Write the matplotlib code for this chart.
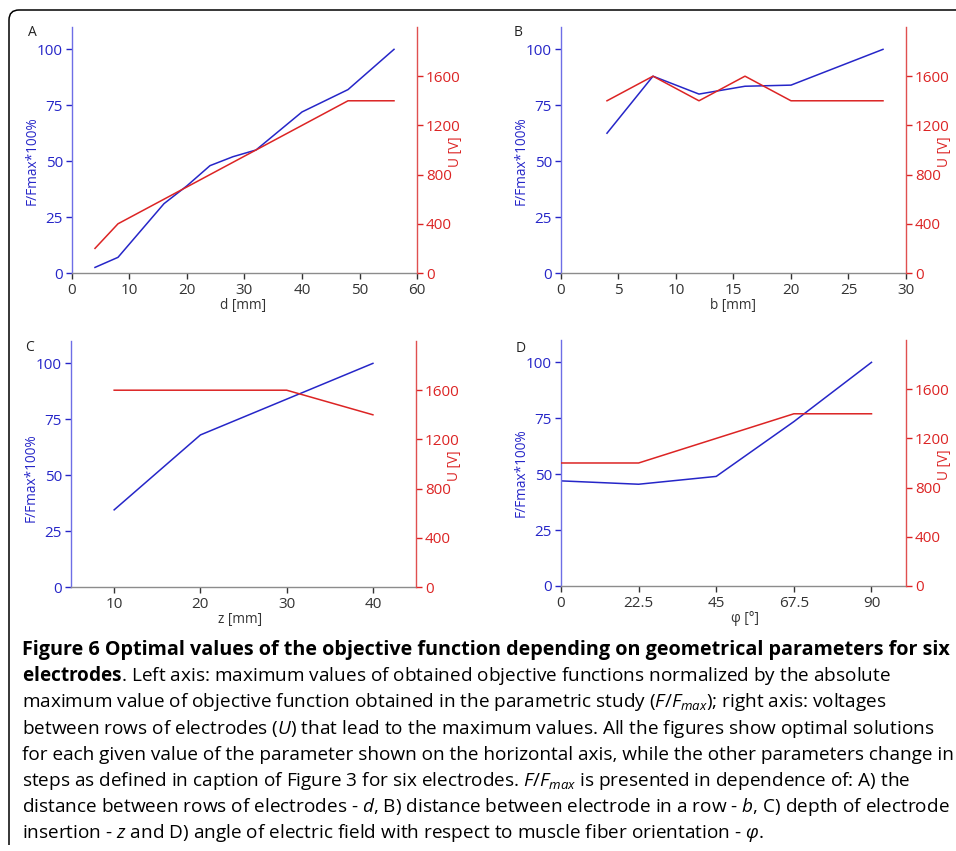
import matplotlib.pyplot as plt
from matplotlib.path import Path
from matplotlib.patches import PathPatch

plt.rcParams['font.family'] = ['Open Sans', 'DejaVu Sans']
plt.rcParams['mathtext.fontset'] = 'custom'
plt.rcParams['mathtext.rm'] = 'Open Sans'
plt.rcParams['mathtext.it'] = 'Open Sans:italic'
plt.rcParams['mathtext.bf'] = 'Open Sans:bold'

## A) distance between rows of electrodes
d_mm = [4, 8, 12, 16, 20, 24, 28, 32, 36, 40, 44, 48, 52, 56]
d_f = [2.5, 7, 19, 31, 39, 48, 52, 55, 63.5, 72, 77, 82, 91, 100]
d_u = [200, 400, 500, 600, 700, 800, 900, 1000, 1100, 1200, 1300, 1400, 1400, 1400]

## B) distance between electrodes in a row
b_mm = [4, 8, 12, 16, 20, 24, 28]
b_f = [62.5, 88, 80, 83.5, 84, 92, 100]
b_u = [1400, 1600, 1400, 1600, 1400, 1400, 1400]

## C) depth of insertion
z_mm = [10, 20, 30, 40]
z_f = [34.5, 68, 84, 100]
z_u = [1600, 1600, 1600, 1400]

## D) angle of electric field
phi_deg = [0, 22.5, 45, 67.5, 90]
phi_f = [47, 45.5, 49, 73.5, 100]
phi_u = [1000, 1000, 1200, 1400, 1400]

f_ticks = [0, 25, 50, 75, 100]
u_ticks = [0, 400, 800, 1200, 1600]

BLUE = '#2626c8'
RED = '#dc2424'
GRAY = '#333333'

fig = plt.figure(figsize=(9.56, 8.51), dpi=100)


def panel(rect, x, f, u, letter, xlabel, xlim, xticks, xticklabels, letter_xy, ylab_y):
    ax = fig.add_axes(rect)
    ax2 = ax.twinx()
    ax.plot(x, f, color=BLUE, lw=1.1)
    ax2.plot(x, u, color=RED, lw=1.1)

    ax.set_xlim(xlim)
    ax.set_ylim(0, 110)
    ax2.set_ylim(0, 2000)
    ax.set_xticks(xticks)
    ax.set_xticklabels(xticklabels)
    ax.set_yticks(f_ticks)
    ax2.set_yticks(u_ticks)

    for s in ['top', 'right']:
        ax.spines[s].set_visible(False)
    for s in ['top', 'left', 'bottom']:
        ax2.spines[s].set_visible(False)
    ax.spines['left'].set_color('#6e6ee6')
    ax.spines['bottom'].set_color('#8c8c8c')
    ax2.spines['right'].set_color('#e05050')
    for s in [ax.spines['left'], ax.spines['bottom'], ax2.spines['right']]:
        s.set_linewidth(1.0)

    ax.tick_params(axis='y', colors=BLUE, length=4.5, width=1, pad=2, labelsize=11)
    ax.tick_params(axis='x', colors=GRAY, length=4.5, width=1, pad=2.5, labelsize=11)
    ax2.tick_params(axis='y', colors=RED, length=4.5, width=1, pad=2, labelsize=11)

    ax.set_ylabel('F/Fmax*100%', color=BLUE, fontsize=9.8)
    ax.yaxis.set_label_coords(-0.093, ylab_y)
    ax2.set_ylabel('U [V]', color=RED, fontsize=9.8)
    ax2.yaxis.set_label_coords(1.09, 0.495)
    ax.set_xlabel(xlabel, color=GRAY, fontsize=9.8)
    ax.xaxis.set_label_coords(letter_xy[2], -0.10)

    ax.text(letter_xy[0], letter_xy[1], letter, transform=ax.transAxes,
            ha='center', va='center', fontsize=10, color='#222222')
    return ax


panel([0.0753, 0.6792, 0.3609, 0.2891], d_mm, d_f, d_u, 'A', 'd [mm]',
      (0, 60), [0, 10, 20, 30, 40, 50, 60], ['0', '10', '20', '30', '40', '50', '60'],
      (-0.116, 0.976, 0.496), 0.455)
panel([0.5868, 0.6792, 0.3609, 0.2891], b_mm, b_f, b_u, 'B', 'b [mm]',
      (0, 30), [0, 5, 10, 15, 20, 25, 30], ['0', '5', '10', '15', '20', '25', '30'],
      (-0.125, 0.976, 0.499), 0.455)
panel([0.0743, 0.3102, 0.3609, 0.2891], z_mm, z_f, z_u, 'C', 'z [mm]',
      (5, 45), [10, 20, 30, 40], ['10', '20', '30', '40'],
      (-0.119, 0.972, 0.49), 0.443)
panel([0.5868, 0.3114, 0.3609, 0.2891], phi_deg, phi_f, phi_u, 'D', 'φ [°]',
      (0, 100), [0, 22.5, 45, 67.5, 90], ['0', '22.5', '45', '67.5', '90'],
      (-0.116, 0.967, 0.533), 0.459)

# frame of the figure box (top and left edges with a rounded corner)
verts = [(0.09, 0.06), (0.09, 8.31), (0.09, 8.41), (0.19, 8.41), (9.7, 8.41)]
codes = [Path.MOVETO, Path.LINETO, Path.CURVE3, Path.CURVE3, Path.LINETO]
fig.add_artist(PathPatch(Path(verts, codes), fill=False, lw=1.1, color='black',
                         transform=fig.dpi_scale_trans))

caption = [
    'Figure 6 Optimal values of the objective function depending on geometrical parameters for six',
    r'$\mathbf{electrodes}$. Left axis: maximum values of obtained objective functions normalized by the absolute',
    r'maximum value of objective function obtained in the parametric study ($F/F_{max}$); right axis: voltages',
    r'between rows of electrodes ($U$) that lead to the maximum values. All the figures show optimal solutions',
    'for each given value of the parameter shown on the horizontal axis, while the other parameters change in',
    r'steps as defined in caption of Figure 3 for six electrodes. $F/F_{max}$ is presented in dependence of: A) the',
    r'distance between rows of electrodes - $d$, B) distance between electrode in a row - $b$, C) depth of electrode',
    r'insertion - $z$ and D) angle of electric field with respect to muscle fiber orientation - $\varphi$.',
]
for i, line in enumerate(caption):
    y = 1 - (655 + 26.2 * i) / 851
    fig.text(22 / 956, y, line, ha='left', va='baseline',
             fontsize=14.2 if i == 0 else 13.7,
             color='black', fontweight='bold' if i == 0 else 'normal')

fig.savefig('out.png', dpi=100)
